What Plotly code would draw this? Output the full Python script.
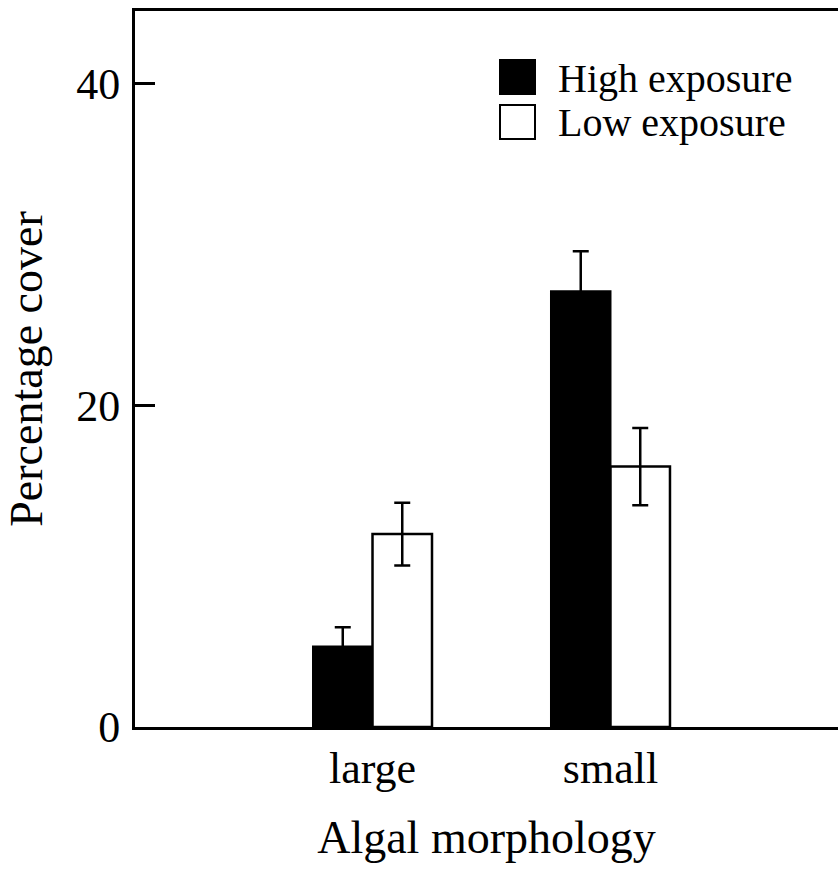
import plotly.graph_objects as go

categories = ["large", "small"]
series_names = ["High exposure", "Low exposure"]
high_values = [5.0, 27.1]
high_errors = [1.2, 2.5]
low_values = [12.0, 16.2]
low_errors = [1.95, 2.4]
y_ticks = [0, 20, 40]

FONT = "Liberation Serif"
W, H = 838, 871
ML, MR, MT, MB = 135, 0, 11, 144

fig = go.Figure()
fig.add_trace(go.Bar(
    x=categories, y=high_values, name=series_names[0],
    marker=dict(color="black", line=dict(color="black", width=2)),
    error_y=dict(type="data", array=high_errors, color="black", thickness=2.5, width=8),
    showlegend=False,
))
fig.add_trace(go.Bar(
    x=categories, y=low_values, name=series_names[1],
    marker=dict(color="white", line=dict(color="black", width=2.5)),
    error_y=dict(type="data", array=low_errors, color="black", thickness=2.5, width=8),
    showlegend=False,
))

def px_x(p):
    return (p - ML) / (W - ML - MR)

def px_y(p):
    return (H - MB - p) / (H - MT - MB)

# manual legend (large squares)
legend_fills = ["black", "white"]
for i, (name, fill) in enumerate(zip(series_names, legend_fills)):
    top = 60 + 45 * i
    fig.add_shape(type="rect", xref="paper", yref="paper",
                  x0=px_x(500), x1=px_x(535), y0=px_y(top + 34), y1=px_y(top),
                  fillcolor=fill, line=dict(color="black", width=2))
    fig.add_annotation(x=px_x(556), y=px_y(top + 18), xref="paper", yref="paper",
                       text=name, showarrow=False, xanchor="left", yanchor="middle",
                       font=dict(family=FONT, size=40, color="black"))

fig.update_layout(
    width=W, height=H,
    margin=dict(l=ML, r=MR, t=MT, b=MB, pad=0),
    paper_bgcolor="white", plot_bgcolor="white",
    barmode="group", bargap=0.5, bargroupgap=0,
    font=dict(family=FONT, color="black", size=44),
)
fig.update_xaxes(
    type="category", range=[-0.998, 1.956],
    showline=True, linecolor="black", linewidth=3, mirror=True,
    ticks="", showgrid=False, zeroline=False,
    tickfont=dict(family=FONT, size=44, color="black"),
    ticklabelstandoff=0,
    title=dict(text="Algal morphology", font=dict(family=FONT, size=46, color="black"), standoff=30),
)
fig.update_yaxes(
    range=[0, 44.54], tickvals=y_ticks,
    showline=True, linecolor="black", linewidth=3, mirror=False,
    ticks="inside", ticklen=20, tickwidth=2.5, tickcolor="black",
    showgrid=False, zeroline=False,
    tickfont=dict(family=FONT, size=44, color="black"),
    ticklabelstandoff=3,
    title=dict(text="Percentage cover", font=dict(family=FONT, size=46, color="black"), standoff=20),
)

fig.write_html("out.html")
